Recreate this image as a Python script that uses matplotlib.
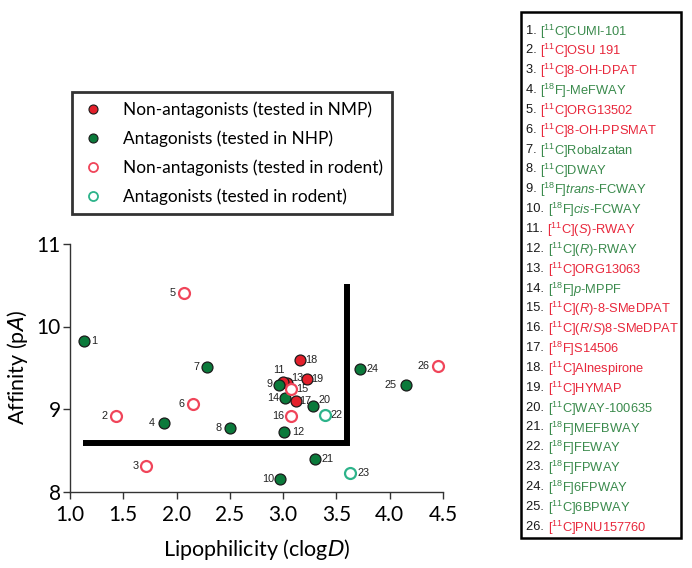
import matplotlib
matplotlib.use("Agg")
import matplotlib.pyplot as plt
from matplotlib.lines import Line2D
from matplotlib.patches import Rectangle

plt.rcParams['font.family'] = ['Lato', 'DejaVu Sans']
plt.rcParams['mathtext.fontset'] = 'custom'
plt.rcParams['mathtext.rm'] = 'Liberation Sans'
plt.rcParams['mathtext.it'] = 'Liberation Sans:italic'
plt.rcParams['mathtext.bf'] = 'Liberation Sans:bold'

# ---------------- data ----------------
ids = list(range(1, 27))
clogd = [1.13, 1.43, 1.71, 1.88, 2.07, 2.15, 2.29, 2.50, 2.96, 2.97,
         3.00, 3.01, 3.04, 3.02, 3.07, 3.07, 3.12, 3.16, 3.22, 3.28,
         3.30, 3.39, 3.63, 3.72, 4.15, 4.45]
affinity = [9.83, 8.92, 8.31, 8.83, 10.41, 9.06, 9.51, 8.77, 9.29, 8.15,
            9.33, 8.72, 9.32, 9.13, 9.24, 8.92, 9.10, 9.59, 9.36, 9.04,
            8.39, 8.93, 8.23, 9.48, 9.29, 9.52]
# category: 'NA_NHP' filled red, 'A_NHP' filled green, 'NA_rod' open red, 'A_rod' open green
category = ['A_NHP', 'NA_rod', 'NA_rod', 'A_NHP', 'NA_rod', 'NA_rod', 'A_NHP', 'A_NHP', 'A_NHP', 'A_NHP',
            'NA_NHP', 'A_NHP', 'NA_NHP', 'A_NHP', 'NA_rod', 'NA_rod', 'NA_NHP', 'NA_NHP', 'NA_NHP', 'A_NHP',
            'A_NHP', 'A_rod', 'A_rod', 'A_NHP', 'A_NHP', 'NA_rod']
names = [r"[$^{11}$C]CUMI-101", r"[$^{11}$C]OSU 191", r"[$^{11}$C]8-OH-DPAT", r"[$^{18}$F]-MeFWAY",
         r"[$^{11}$C]ORG13502", r"[$^{11}$C]8-OH-PPSMAT", r"[$^{11}$C]Robalzatan", r"[$^{11}$C]DWAY",
         r"[$^{18}$F]$\it{trans}$-FCWAY", r"[$^{18}$F]$\it{cis}$-FCWAY", r"[$^{11}$C]($\it{S}$)-RWAY",
         r"[$^{11}$C]($\it{R}$)-RWAY", r"[$^{11}$C]ORG13063", r"[$^{18}$F]$\it{p}$-MPPF",
         r"[$^{11}$C]($\it{R}$)-8-SMeDPAT", r"[$^{11}$C]($\it{R/S}$)8-SMeDPAT", r"[$^{18}$F]S14506",
         r"[$^{11}$C]Alnespirone", r"[$^{11}$C]HYMAP", r"[$^{11}$C]WAY-100635", r"[$^{18}$F]MEFBWAY",
         r"[$^{18}$F]FEWAY", r"[$^{18}$F]FPWAY", r"[$^{18}$F]6FPWAY", r"[$^{11}$C]6BPWAY",
         r"[$^{11}$C]PNU157760"]
legend_labels = ["Non-antagonists (tested in NMP)", "Antagonists (tested in NHP)",
                 "Non-antagonists (tested in rodent)", "Antagonists (tested in rodent)"]
x_ticks = [1.0, 1.5, 2.0, 2.5, 3.0, 3.5, 4.0, 4.5]
x_ticklabels = ['1.0', '1.5', '2.0', '2.5', '3.0', '3.5', '4.0', '4.5']
y_ticks = [8, 9, 10, 11]
cutoff_x = [1.12, 3.60, 3.60]
cutoff_y = [8.59, 8.59, 10.52]

# ---------------- styles ----------------
RED = '#e3202b'
GREEN = '#0b7a3b'
ORED = '#f0455a'
OGREEN = '#2db38a'
style = {
    'NA_NHP': dict(facecolor=RED, edgecolor='#1a1a1a', linewidths=0.9),
    'A_NHP': dict(facecolor=GREEN, edgecolor='#1a1a1a', linewidths=0.9),
    'NA_rod': dict(facecolor='white', edgecolor=ORED, linewidths=1.6),
    'A_rod': dict(facecolor='white', edgecolor=OGREEN, linewidths=1.6),
}
name_color = {'NA_NHP': '#e8283c', 'NA_rod': '#e8283c', 'A_NHP': '#3a8a4c', 'A_rod': '#3a8a4c'}

# label offsets in pixels (dx, dy) and alignment
lab_off = {1: (7, 0, 'left'), 2: (-8, 0, 'right'), 3: (-7, 0, 'right'), 4: (-9, 0, 'right'),
           5: (-8, 0, 'right'), 6: (-8, 0, 'right'), 7: (-8, 0, 'right'), 8: (-8, 0, 'right'),
           9: (-6, 1, 'right'), 10: (-6, 0, 'right'), 11: (-4, 12, 'center'), 12: (8, 0, 'left'),
           13: (4, 5, 'left'), 14: (-6, 0, 'right'), 15: (6, 0, 'left'), 16: (-6, 0, 'right'),
           17: (3, 0, 'left'), 18: (5, 0, 'left'), 19: (5, 0, 'left'), 20: (6, 6, 'left'),
           21: (6, 0, 'left'), 22: (6, 0, 'left'), 23: (7, 0, 'left'), 24: (7, 0, 'left'),
           25: (-9, 0, 'right'), 26: (-8, 0, 'right')}

W, H = 692, 568
fig = plt.figure(figsize=(W / 100, H / 100), dpi=100)
ax = fig.add_axes([70 / W, 1 - 491.5 / H, 373 / W, 247.5 / H])

# cutoff line
ax.plot(cutoff_x, cutoff_y, color='black', lw=4.3, solid_joinstyle='miter',
        solid_capstyle='butt', zorder=2, clip_on=False)

order = [10, 12, 14, 13, 11, 9, 15, 17, 16]  # draw cluster order (front later)
draw_idx = [i for i in range(26) if (i + 1) not in order] + [o - 1 for o in order]
for i in draw_idx:
    ax.scatter([clogd[i]], [affinity[i]], s=62, zorder=3, clip_on=False, **style[category[i]])

for i in range(26):
    dx, dy, ha = lab_off[ids[i]]
    ax.annotate(str(ids[i]), (clogd[i], affinity[i]), xytext=(dx, dy), textcoords='offset pixels',
                ha=ha, va='center', fontsize=7.8, family='Liberation Sans', color='#222222', zorder=2)

ax.set_xlim(1.0, 4.5)
ax.set_ylim(8, 11)
ax.set_xticks(x_ticks)
ax.set_xticklabels(x_ticklabels)
ax.set_yticks(y_ticks)
ax.tick_params(direction='out', length=5, width=1, labelsize=15, colors='#333333',
               labelcolor='black')
ax.tick_params(axis='x', pad=5)
ax.tick_params(axis='y', pad=1.5)
for s in ['top', 'right']:
    ax.spines[s].set_visible(False)
for s in ['left', 'bottom']:
    ax.spines[s].set_color('#333333')
    ax.spines[s].set_linewidth(1.0)
ax.set_xlabel(r"Lipophilicity (clog$D$)", fontsize=15.5, math_fontfamily='dejavusans', labelpad=8)
ax.set_ylabel(r"Affinity (p$A$)", fontsize=15.5, math_fontfamily='dejavusans', labelpad=5)

# legend
handles = [Line2D([], [], ls='', marker='o', ms=6.5, mfc=RED, mec='#1a1a1a', mew=0.8),
           Line2D([], [], ls='', marker='o', ms=6.5, mfc=GREEN, mec='#1a1a1a', mew=0.8),
           Line2D([], [], ls='', marker='o', ms=6.5, mfc='white', mec=ORED, mew=1.3),
           Line2D([], [], ls='', marker='o', ms=6.5, mfc='white', mec=OGREEN, mew=1.3)]
leg = fig.legend(handles, legend_labels, loc='upper left', bbox_to_anchor=(72 / W, 1 - 92 / H),
                 frameon=True, fancybox=False, edgecolor='black', fontsize=12.4,
                 handletextpad=1.1, labelspacing=0.72, borderpad=0.55, handlelength=1.3,
                 borderaxespad=0)
leg.get_frame().set_linewidth(2)

# compound list box
fig.add_artist(Rectangle((521 / W, 1 - 538 / H), 160 / W, 526 / H, transform=fig.transFigure,
                         fill=False, edgecolor='black', lw=1.8))
for i in range(26):
    y = 1 - (29 + i * 19.85) / H
    t1 = fig.text(526 / W, y, f"{ids[i]}. ", family='Liberation Sans', fontsize=9.3,
                  color='#1a1a1a', va='center_baseline', ha='left')
    fig.add_artist(matplotlib.text.Annotation(
        names[i], xy=(1, y), xycoords=(t1, 'figure fraction'), family='Liberation Sans',
        fontsize=9.3, color=name_color[category[i]], va='center_baseline', ha='left',
        annotation_clip=False))

fig.savefig('out.png', dpi=100)
